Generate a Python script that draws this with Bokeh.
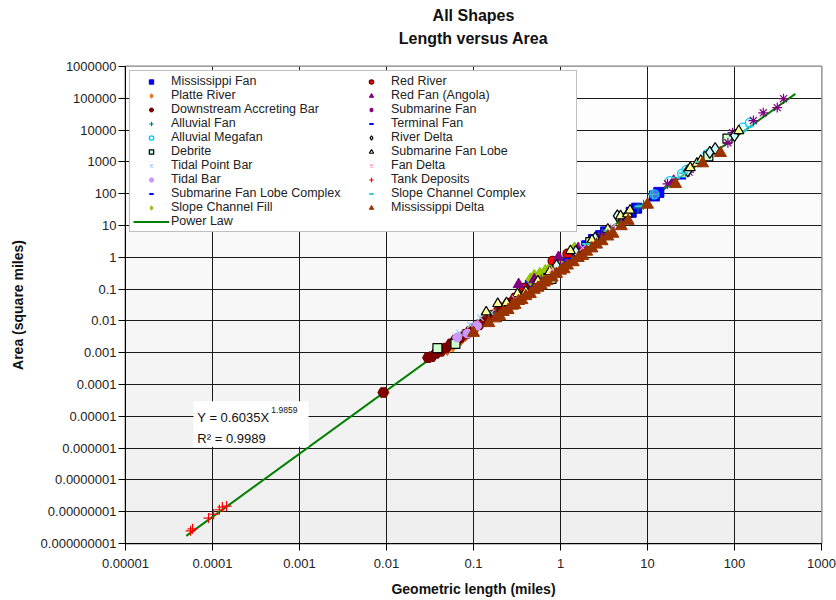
from bokeh.plotting import figure
from bokeh.models import (FixedTicker, Legend, LegendItem, Label, BoxAnnotation, LogAxis)
from bokeh.embed import file_html
from bokeh.resources import INLINE

# ---------------- data ----------------
title_main = "All Shapes"
title_sub = "Length versus Area"

x_ticks = [1e-5, 1e-4, 1e-3, 1e-2, 1e-1, 1, 10, 100, 1000]
x_tick_labels = ["0.00001", "0.0001", "0.001", "0.01", "0.1", "1", "10", "100", "1000"]
y_ticks = [1e-9, 1e-8, 1e-7, 1e-6, 1e-5, 1e-4, 1e-3, 1e-2, 1e-1, 1, 10, 100, 1000, 1e4, 1e5, 1e6]
y_tick_labels = ["0.000000001", "0.00000001", "0.0000001", "0.000001", "0.00001", "0.0001",
                 "0.001", "0.01", "0.1", "1", "10", "100", "1000", "10000", "100000", "1000000"]

fit_coef = 0.6035
fit_exp = 1.9859
fit_r2 = 0.9989
fit_x_range = [0.00005, 500]

miss_fan_x = [0.45, 0.6, 0.75, 0.9, 1.1, 1.3, 1.6, 2.0, 2.4, 2.9, 3.3, 5.5, 6.5, 7.5, 12, 13.5]
miss_fan_y = [0.13, 0.2, 0.33, 0.5, 0.7, 1.05, 1.5, 2.3, 3.6, 4.8, 6.3, 17, 26, 35, 85, 110]

platte_x = [0.05, 0.058, 0.065, 0.072, 0.08, 0.09, 0.1, 0.11, 0.125, 0.14, 0.16, 0.18, 0.21]
platte_y = [1.3e-3, 1.7e-3, 2.3e-3, 2.7e-3, 3.5e-3, 4.4e-3, 5.2e-3, 6.8e-3, 8.8e-3, 0.011, 0.014, 0.019, 0.025]

dab_x = [0.0092, 0.03, 0.033, 0.037, 0.042, 0.048, 0.055, 0.062, 0.07, 0.08, 0.09, 0.1,
         0.115, 0.13, 0.16, 0.2, 0.25, 0.3, 0.4, 0.6, 0.9]
dab_y = [5.6e-5, 7.0e-4, 7.5e-4, 9.5e-4, 1.1e-3, 1.4e-3, 1.9e-3, 2.5e-3, 2.9e-3, 3.8e-3, 4.6e-3, 5.8e-3,
         7.5e-3, 0.0095, 0.015, 0.024, 0.036, 0.052, 0.09, 0.2, 0.45]

alluvial_fan_x = [0.18, 0.6, 1.6, 3.0, 5.5, 7.8, 9.0, 11.5]
alluvial_fan_y = [0.018, 0.22, 1.7, 5.5, 19, 36, 45, 95]

megafan_x = [12, 18, 25, 28, 49, 125, 150]
megafan_y = [95, 250, 430, 560, 1800, 12000, 17000]

debrite_x = [0.0385, 0.062, 0.79, 2.2, 50, 83]
debrite_y = [1.4e-3, 1.9e-3, 0.21, 3.0, 1500, 5400]

tidal_pb_x = [0.069, 0.092, 0.12, 0.16]
tidal_pb_y = [4.2e-3, 7.4e-3, 0.0126, 0.018]

tidal_bar_x = [0.065, 0.085, 0.11]
tidal_bar_y = [3e-3, 4e-3, 7e-3]

sflc_x = [0.4, 0.9, 1.9, 3.8]
sflc_y = [0.1, 0.5, 2.1, 8.5]

scf_x = [0.45, 0.5, 0.58, 0.67, 0.76, 0.85, 1.0, 1.2, 1.45]
scf_y = [0.2, 0.26, 0.3, 0.37, 0.46, 0.5, 0.62, 1.1, 1.9]

red_river_x = [0.38, 0.81, 1.2]
red_river_y = [0.11, 0.78, 1.3]

red_fan_x = [0.33, 0.5, 0.95, 1.6, 20]
red_fan_y = [0.14, 0.2, 1.0, 1.9, 250]

sub_fan_x = [0.35, 0.6, 1.0, 1.7, 3.0, 17, 30, 84, 95, 165, 214, 310, 366]
sub_fan_y = [0.06, 0.2, 0.55, 1.6, 5.0, 205, 480, 4000, 8300, 20000, 35000, 51000, 97000]

terminal_x = [0.7, 1.2, 2.6, 25]
terminal_y = [0.3, 0.9, 4.0, 300]

river_delta_x = [0.9, 1.5, 2.5, 4.5, 29, 52, 60, 100]
river_delta_y = [0.55, 1.5, 4.0, 20, 520, 2000, 2600, 6700]

sfl_x = [0.14, 0.19, 0.24, 0.32, 0.4, 0.55, 0.75, 1.3, 2.3, 3.5, 4.9, 5.9, 6.3, 31, 37, 41, 112]
sfl_y = [0.019, 0.035, 0.037, 0.071, 0.085, 0.18, 0.35, 1.6, 3.5, 7.6, 20, 23, 30, 660, 900, 1100, 9500]

fan_delta_x = [0.3, 0.8, 1.8, 4.0]
fan_delta_y = [0.05, 0.4, 2.0, 9.0]

tank_x = [5.6e-5, 5.9e-5, 9.0e-5, 1.03e-4, 1.2e-4, 1.3e-4, 1.45e-4]
tank_y = [2.5e-9, 2.9e-9, 6.3e-9, 8.3e-9, 1.15e-8, 1.4e-8, 1.5e-8]

scc_x = [2.0, 3.5, 8.0, 21, 26, 40]
scc_y = [2.6, 6.8, 40, 320, 440, 1000]

miss_delta_x = [0.1, 0.15, 0.18, 0.2, 0.22, 0.25, 0.28, 0.3, 0.33, 0.36, 0.4, 0.45, 0.5, 0.55, 0.6, 0.65,
                0.7, 0.8, 0.9, 1.0, 1.1, 1.2, 1.4, 1.6, 1.8, 2.0, 2.3, 2.6, 3.0, 3.5, 4.0, 5.0, 6.0,
                10, 21, 43, 69]
miss_delta_y = [0.0042, 0.0085, 0.012, 0.014, 0.019, 0.022, 0.03, 0.032, 0.042, 0.045, 0.06, 0.07, 0.095,
                0.11, 0.13, 0.16, 0.18, 0.23, 0.3, 0.38, 0.42, 0.55, 0.7, 0.95, 1.1, 1.5, 1.9, 2.5,
                3.2, 4.5, 5.5, 9.5, 14, 45, 200, 900, 1900]

FONT = "Liberation Sans"

p = figure(width=836, height=600, x_axis_type="log", y_axis_type="log",
           x_range=(1e-5, 1e3), y_range=(1e-9, 1e6),
           output_backend="svg", toolbar_location=None,
           min_border_left=125, min_border_right=15, min_border_top=66, min_border_bottom=57)

# background gradient (white at top to light grey at bottom)
for i in range(15):
    lo = 10.0 ** (-9 + i)
    hi = 10.0 ** (-8 + i)
    g = int(239 + 16 * i / 14)
    p.add_layout(BoxAnnotation(bottom=lo, top=hi, fill_color="#%02x%02x%02x" % (g, g, g),
                               fill_alpha=1.0, line_alpha=0, level="image"))

p.background_fill_color = "white"
p.border_fill_color = "white"
p.outline_line_color = "#808080"
p.outline_line_width = 2

for ax, ticks, labels in ((p.xaxis[0], x_ticks, x_tick_labels), (p.yaxis[0], y_ticks, y_tick_labels)):
    ax.ticker = FixedTicker(ticks=ticks)
    ax.major_label_overrides = {t: l for t, l in zip(ticks, labels)}
    ax.minor_tick_line_color = None
    ax.major_tick_in = 0
    ax.major_tick_out = 7
    ax.major_tick_line_color = "black"
    ax.axis_line_color = "black"
    ax.major_label_text_font = FONT
    ax.major_label_text_font_size = "13px"
    ax.major_label_text_color = "#222222"
    ax.axis_label_text_font = FONT
    ax.axis_label_text_font_size = "14px"
    ax.axis_label_text_font_style = "bold"
    ax.axis_label_text_color = "#111111"

p.xaxis.axis_label = "Geometric length (miles)"
p.yaxis.axis_label = "Area (square miles)"
p.xaxis.major_label_standoff = 8
p.xaxis.axis_label_standoff = 10
p.yaxis.major_label_standoff = 2
p.yaxis.axis_label_standoff = 12

p.grid.grid_line_color = "#1a1a1a"
p.grid.grid_line_width = 1
p.xgrid.ticker = FixedTicker(ticks=x_ticks)
p.ygrid.ticker = FixedTicker(ticks=y_ticks)

# second title line rendered as the label of a tickless axis above the frame
sub_axis = LogAxis(ticker=FixedTicker(ticks=[]), axis_line_color=None,
                   major_tick_line_color=None, minor_tick_line_color=None,
                   major_label_text_font_size="0px",
                   axis_label=title_sub, axis_label_text_font=FONT,
                   axis_label_text_font_size="16px", axis_label_text_font_style="bold",
                   axis_label_text_color="#111111", axis_label_standoff=20)
p.add_layout(sub_axis, "above")

p.title.text = title_main
p.title.align = "center"
p.title.text_font = FONT
p.title.text_font_size = "16px"
p.title.text_font_style = "bold"
p.title.text_color = "#111111"
p.title.standoff = 6

# power-law trend line from fit coefficients
line_y = [fit_coef * xx ** fit_exp for xx in fit_x_range]
r_line = p.line(fit_x_range, line_y, line_color="#008000", line_width=2)

items_spec = [
    ("Mississippi Fan", miss_fan_x, miss_fan_y, dict(marker="square", size=10, fill_color="#0000ff", line_color="#0000cc")),
    ("Platte River", platte_x, platte_y, dict(marker="diamond", size=13, fill_color="#ff8000", line_color="#e06000")),
    ("Downstream Accreting Bar", dab_x, dab_y, dict(marker="hex", size=11, fill_color="#800000", line_color="#700000")),
    ("Alluvial Fan", alluvial_fan_x, alluvial_fan_y, dict(marker="cross", size=10, line_color="#008080", line_width=1.2)),
    ("Alluvial Megafan", megafan_x, megafan_y, dict(marker="circle", size=9, fill_color="#ccffff", fill_alpha=0.4, line_color="#00ccff", line_width=1.3)),
    ("Debrite", debrite_x, debrite_y, dict(marker="square", size=9, fill_color="#ccffcc", line_color="black", line_width=1.2)),
    ("Tidal Point Bar", tidal_pb_x, tidal_pb_y, dict(marker="x", size=9, line_color="#99ccff", line_width=1.2)),
    ("Tidal Bar", tidal_bar_x, tidal_bar_y, dict(marker="circle", size=9, fill_color="#cc99ff", line_color="#cc99ff")),
    ("Submarine Fan Lobe Complex", sflc_x, sflc_y, dict(marker="dash", size=8, line_color="#0000ff", line_width=2)),
    ("Slope Channel Fill", scf_x, scf_y, dict(marker="diamond", size=13, fill_color="#99cc00", line_color="#88bb00")),
    ("Red River", red_river_x, red_river_y, dict(marker="circle", size=9, fill_color="#ff0000", line_color="#660000", line_width=1.2)),
    ("Red Fan (Angola)", red_fan_x, red_fan_y, dict(marker="triangle", size=11, fill_color="#800080", line_color="#800080")),
    ("Submarine Fan", sub_fan_x, sub_fan_y, dict(marker="asterisk", size=10, line_color="#800080", line_width=1.2)),
    ("Terminal Fan", terminal_x, terminal_y, dict(marker="dash", size=8, line_color="#0000ff", line_width=2)),
    ("River Delta", river_delta_x, river_delta_y, dict(marker="diamond", size=12, fill_color="#ccffff", line_color="black", line_width=1.2)),
    ("Submarine Fan Lobe", sfl_x, sfl_y, dict(marker="triangle", size=10, fill_color="#ffff99", line_color="black", line_width=1.2)),
    ("Fan Delta", fan_delta_x, fan_delta_y, dict(marker="x", size=9, line_color="#ff99cc", line_width=1.2)),
    ("Tank Deposits", tank_x, tank_y, dict(marker="cross", size=10, line_color="#ff0000", line_width=1.2)),
    ("Slope Channel Complex", scc_x, scc_y, dict(marker="dash", size=9, line_color="#33cccc", line_width=2)),
    ("Mississippi Delta", miss_delta_x, miss_delta_y, dict(marker="triangle", size=12, fill_color="#993300", line_color="#993300")),
]

renderers = {}
for name, xs, ys, style in items_spec:
    renderers[name] = p.scatter(xs, ys, **style)

col1 = ["Mississippi Fan", "Platte River", "Downstream Accreting Bar", "Alluvial Fan", "Alluvial Megafan",
        "Debrite", "Tidal Point Bar", "Tidal Bar", "Submarine Fan Lobe Complex", "Slope Channel Fill"]
col2 = ["Red River", "Red Fan (Angola)", "Submarine Fan", "Terminal Fan", "River Delta",
        "Submarine Fan Lobe", "Fan Delta", "Tank Deposits", "Slope Channel Complex", "Mississippi Delta"]

legend_items = [LegendItem(label=n, renderers=[renderers[n]]) for n in col1]
legend_items.append(LegendItem(label="Power Law", renderers=[r_line]))
legend_items += [LegendItem(label=n, renderers=[renderers[n]]) for n in col2]

legend = Legend(items=legend_items, location="top_left", nrows=11,
                label_text_font=FONT, label_text_font_size="12.5px", label_text_color="#222222",
                label_text_line_height=0.8,
                glyph_height=11, glyph_width=36, label_height=11, label_width=182,
                spacing=0, padding=3, margin=4, label_standoff=2,
                border_line_color="#808080", border_line_width=1.5,
                background_fill_color="white", background_fill_alpha=1.0)
p.add_layout(legend, "center")

# fit equation box
p.add_layout(BoxAnnotation(left=6.05e-5, right=1.27e-3, bottom=1.1e-6, top=3.0e-5,
                           fill_color="white", fill_alpha=1.0, line_alpha=0))
p.add_layout(Label(x=6.7e-5, y=9.5e-6, text="Y = %.4fX" % fit_coef, text_font=FONT,
                   text_font_size="13px", text_baseline="middle", text_color="#111111"))
p.add_layout(Label(x=6.7e-5, y=9.5e-6, x_offset=74, y_offset=7, text="%.4f" % fit_exp, text_font=FONT,
                   text_font_size="8.5px", text_baseline="middle", text_color="#111111"))
p.add_layout(Label(x=6.7e-5, y=2.07e-6, text="R² = %.4f" % fit_r2, text_font=FONT,
                   text_font_size="13px", text_baseline="middle", text_color="#111111"))

open("out.html", "w").write(file_html(p, INLINE))
